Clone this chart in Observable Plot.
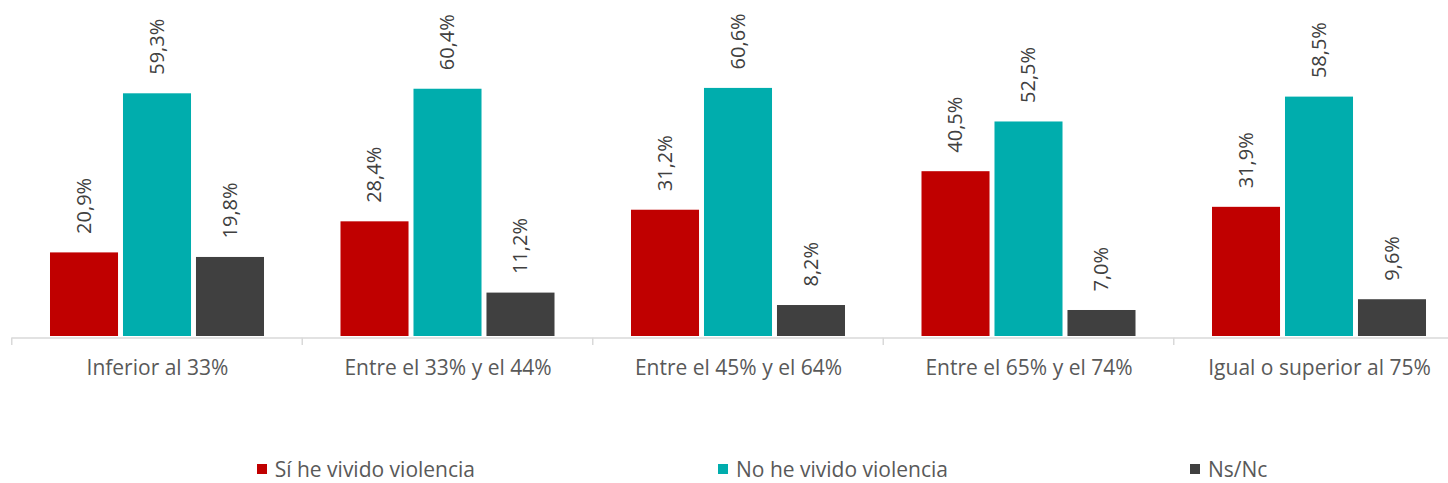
<!DOCTYPE html>
<html>
<head>
<meta charset="utf-8">
<script src="https://cdn.jsdelivr.net/npm/d3@7"></script>
<script src="https://cdn.jsdelivr.net/npm/@observablehq/plot@0.6"></script>
<style>
  html, body { margin: 0; padding: 0; background: #fff; overflow: hidden; }
  body { width: 1448px; height: 483px; font-family: "Open Sans", sans-serif; }
  #chart svg { display: block; }
  #legend { position: relative; height: 43px; width: 1448px; font-family: "Open Sans", sans-serif; font-size: 21px; line-height: 18px; color: #595959; }
  .item { position: absolute; top: 20px; height: 18px; display: flex; align-items: center; white-space: nowrap; }
  .sw { width: 10px; height: 10px; margin-right: 8px; }
</style>
</head>
<body>
<div id="chart"></div>
<div id="legend"></div>
<script>
const groups = ["Inferior al 33%", "Entre el 33% y el 44%", "Entre el 45% y el 64%", "Entre el 65% y el 74%", "Igual o superior al 75%"];
const series = ["Sí he vivido violencia", "No he vivido violencia", "Ns/Nc"];
const colors = ["#C00000", "#00ADAD", "#404040"];
const si = [20.9, 28.4, 31.2, 40.5, 31.9];
const no = [59.3, 60.4, 60.6, 52.5, 58.5];
const nsnc = [19.8, 11.2, 8.2, 7.0, 9.6];

const seriesValues = [si, no, nsnc];
const data = [];
groups.forEach((g, gi) => {
  series.forEach((s, si_) => {
    data.push({group: g, series: s, value: seriesValues[si_][gi]});
  });
});
const fmt = v => v.toFixed(1).replace(".", ",") + "%";

const chart = Plot.plot({
  width: 1448,
  height: 440,
  marginLeft: 11.75,
  marginRight: -16.25,
  marginTop: 90.4,
  marginBottom: 101,
  style: {fontFamily: "Open Sans, sans-serif", fontSize: "21px", color: "#595959", background: "#fff"},
  fx: {domain: groups, padding: 0, round: false, label: null, axis: "bottom", tickSize: 0, tickPadding: 21},
  x: {domain: series, paddingInner: 0.068, paddingOuter: 0.524, round: false, axis: null},
  y: {domain: [0, 60], axis: null},
  color: {domain: series, range: colors},
  marks: [
    Plot.barY(data, {fx: "group", x: "series", y: "value", fill: "series", insetBottom: 3}),
    Plot.ruleY([0], {stroke: "#d9d9d9", strokeWidth: 1.5, dy: -1.5}),
    Plot.text(data, {fx: "group", x: "series", y: "value", text: d => fmt(d.value), rotate: -90, textAnchor: "start", dy: -19, fontSize: 20, fill: "#404040"})
  ]
});
document.getElementById("chart").appendChild(chart);

// group boundary ticks on the category axis, positioned from Plot's fx scale
const fxs = chart.scale("fx");
const svg = d3.select(chart);
const bounds = groups.map(g => fxs.apply(g)).concat([fxs.apply(groups[groups.length - 1]) + fxs.bandwidth]);
svg.append("g").selectAll("line").data(bounds).join("line")
  .attr("x1", d => d).attr("x2", d => d)
  .attr("y1", 337.5).attr("y2", 345)
  .attr("stroke", "#d9d9d9").attr("stroke-width", 1.5);

// legend
const legendPos = [256.7, 718, 1190];
const legend = document.getElementById("legend");
series.forEach((s, i) => {
  const item = document.createElement("div");
  item.className = "item";
  item.style.left = legendPos[i] + "px";
  item.innerHTML = `<span class="sw" style="background:${colors[i]}"></span><span>${s}</span>`;
  legend.appendChild(item);
});
</script>
</body>
</html>
